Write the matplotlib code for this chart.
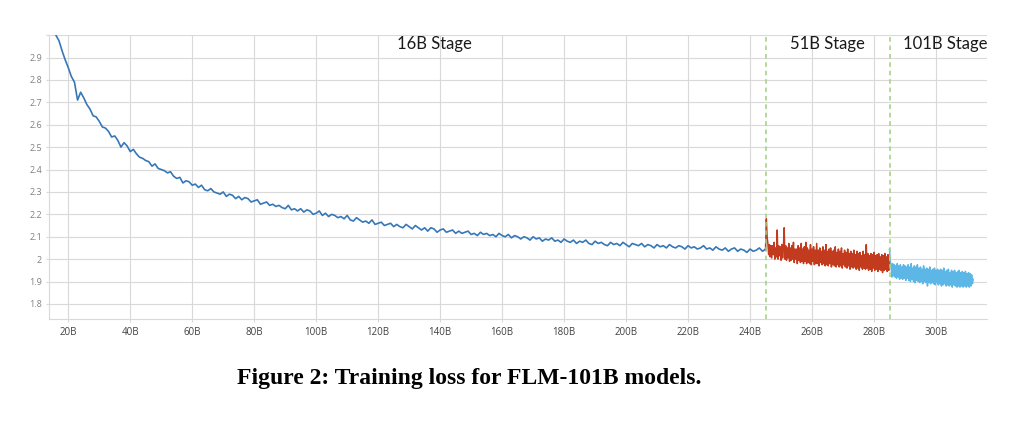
import matplotlib
matplotlib.use("Agg")
import matplotlib.pyplot as plt
import numpy as np

# loss values (x in billions of tokens)
stage16_start, stage16_end = 16, 245      # 1B step
loss_16b = [
    3.00, 2.975, 2.93, 2.89, 2.855, 2.815, 2.79, 2.71, 2.745, 2.72,
    2.69, 2.67, 2.64, 2.635, 2.615, 2.59, 2.585, 2.57, 2.545, 2.55,
    2.53, 2.50, 2.52, 2.505, 2.48, 2.49, 2.47, 2.455, 2.45, 2.44,
    2.435, 2.415, 2.425, 2.405, 2.40, 2.395, 2.385, 2.39, 2.37, 2.36,
    2.365, 2.34, 2.35, 2.345, 2.33, 2.335, 2.32, 2.33, 2.31, 2.305,
    2.315, 2.30, 2.295, 2.29, 2.30, 2.28, 2.29, 2.285, 2.27, 2.28,
    2.265, 2.275, 2.27, 2.255, 2.26, 2.265, 2.245, 2.25, 2.255, 2.24,
    2.245, 2.235, 2.24, 2.23, 2.225, 2.24, 2.22, 2.225, 2.215, 2.225,
    2.21, 2.22, 2.215, 2.20, 2.205, 2.215, 2.195, 2.205, 2.19, 2.20,
    2.195, 2.185, 2.19, 2.18, 2.195, 2.175, 2.17, 2.185, 2.175, 2.165,
    2.17, 2.16, 2.175, 2.155, 2.16, 2.165, 2.15, 2.155, 2.16, 2.145,
    2.155, 2.145, 2.14, 2.155, 2.145, 2.135, 2.15, 2.14, 2.13, 2.14,
    2.125, 2.14, 2.135, 2.12, 2.13, 2.135, 2.12, 2.125, 2.13, 2.115,
    2.125, 2.115, 2.12, 2.125, 2.11, 2.115, 2.105, 2.12, 2.11, 2.115,
    2.105, 2.11, 2.10, 2.115, 2.105, 2.10, 2.11, 2.095, 2.105, 2.10,
    2.09, 2.10, 2.095, 2.085, 2.10, 2.09, 2.095, 2.08, 2.09, 2.085,
    2.095, 2.08, 2.085, 2.075, 2.09, 2.08, 2.075, 2.085, 2.07, 2.08,
    2.075, 2.085, 2.07, 2.065, 2.08, 2.07, 2.075, 2.065, 2.06, 2.075,
    2.065, 2.07, 2.06, 2.075, 2.065, 2.055, 2.07, 2.065, 2.06, 2.07,
    2.055, 2.065, 2.06, 2.05, 2.065, 2.055, 2.06, 2.05, 2.065, 2.055,
    2.05, 2.06, 2.055, 2.045, 2.06, 2.05, 2.055, 2.045, 2.05, 2.06,
    2.045, 2.05, 2.04, 2.055, 2.045, 2.04, 2.05, 2.035, 2.045, 2.05,
    2.035, 2.045, 2.04, 2.03, 2.045, 2.035, 2.04, 2.05, 2.035, 2.045,
]

stage51_start, stage51_end = 245, 285     # 0.25B step
loss_51b = [
    2.04, 2.18, 2.10, 2.07, 2.02, 2.065, 2.01, 2.06,
    2.005, 2.06, 2.02, 2.075, 2.00, 2.05, 2.01, 2.13,
    2.00, 2.06, 2.015, 2.055, 1.995, 2.065, 2.005, 2.045,
    2.14, 2.00, 2.06, 1.995, 2.05, 2.005, 2.07, 1.99,
    2.05, 1.995, 2.06, 2.00, 2.075, 1.985, 2.045, 2.00,
    2.045, 1.98, 2.06, 1.995, 2.05, 1.985, 2.07, 1.99,
    2.045, 1.98, 2.055, 1.99, 2.075, 1.98, 2.05, 1.985,
    2.04, 1.98, 2.065, 1.975, 2.045, 1.99, 2.055, 1.975,
    2.04, 1.98, 2.07, 1.98, 2.04, 1.97, 2.05, 1.985,
    2.035, 1.975, 2.055, 1.98, 2.04, 1.97, 2.065, 1.975,
    2.035, 1.97, 2.045, 1.98, 2.05, 1.965, 2.035, 1.975,
    2.04, 1.97, 2.055, 1.965, 2.03, 1.975, 2.045, 1.965,
    2.035, 1.97, 2.05, 1.96, 2.025, 1.975, 2.04, 1.965,
    2.03, 1.96, 2.045, 1.97, 2.025, 1.955, 2.035, 1.965,
    2.025, 1.96, 2.04, 1.965, 2.02, 1.955, 2.035, 1.96,
    2.025, 1.95, 2.03, 1.965, 2.015, 1.955, 2.035, 1.96,
    2.02, 1.955, 2.065, 1.96, 2.025, 1.95, 2.015, 1.955,
    2.025, 1.945, 2.02, 1.96, 2.03, 1.95, 2.015, 1.955,
    2.02, 1.945, 2.025, 1.955, 2.01, 1.95, 2.02, 1.94,
    2.015, 1.95, 2.025, 1.955, 2.01, 1.945, 2.02, 1.95,
    1.99,
]

stage101_start, stage101_end = 285, 312   # 0.25B step
loss_101b = [
    2.045, 1.99, 1.975, 1.92, 1.98, 1.925, 1.975, 1.92,
    1.97, 1.915, 1.98, 1.92, 1.97, 1.91, 1.975, 1.915,
    1.965, 1.91, 1.975, 1.915, 1.97, 1.905, 1.965, 1.915,
    1.975, 1.905, 1.965, 1.90, 1.98, 1.91, 1.96, 1.90,
    1.97, 1.895, 1.965, 1.905, 1.975, 1.90, 1.96, 1.895,
    1.965, 1.90, 1.955, 1.89, 1.97, 1.90, 1.955, 1.895,
    1.96, 1.88, 1.955, 1.895, 1.965, 1.89, 1.95, 1.895,
    1.955, 1.89, 1.96, 1.885, 1.95, 1.895, 1.955, 1.885,
    1.95, 1.89, 1.955, 1.88, 1.95, 1.885, 1.96, 1.89,
    1.945, 1.88, 1.95, 1.885, 1.955, 1.88, 1.94, 1.885,
    1.95, 1.875, 1.945, 1.885, 1.95, 1.88, 1.94, 1.875,
    1.945, 1.88, 1.95, 1.875, 1.94, 1.88, 1.945, 1.875,
    1.94, 1.88, 1.945, 1.875, 1.935, 1.88, 1.94, 1.875,
    1.935, 1.88, 1.93, 1.89, 1.91,
]

stage_bounds = [245, 285]
stage_labels = ["16B Stage", "51B Stage", "101B Stage"]
stage_label_x = [138, 265, 303]
x_ticks = list(range(20, 301, 20))
x_tick_labels = [f"{t}B" for t in x_ticks]
y_ticks = [1.8, 1.9, 2.0, 2.1, 2.2, 2.3, 2.4, 2.5, 2.6, 2.7, 2.8, 2.9, 3.0]
y_tick_labels = ["1.8", "1.9", "2", "2.1", "2.2", "2.3", "2.4", "2.5",
                 "2.6", "2.7", "2.8", "2.9", ""]

x16 = np.linspace(stage16_start, stage16_end, len(loss_16b))
x51 = np.linspace(stage51_start, stage51_end, len(loss_51b))
x101 = np.linspace(stage101_start, stage101_end, len(loss_101b))

fig = plt.figure(figsize=(10.24, 4.23), dpi=100)
ax = fig.add_axes([0.0479, 0.246, 0.9161, 0.671])

grid_c = "#d9d9d9"
ax.plot(x16, loss_16b, color="#3677b8", lw=1.2, zorder=3)
ax.plot(x51, loss_51b, color="#c23b1e", lw=1.1, zorder=3)
ax.plot(x101, loss_101b, color="#5cb6e6", lw=1.1, zorder=3)
for b in stage_bounds:
    ax.axvline(b, color="#9fcf7f", lw=1.1, ls=(0, (3, 2.5)), zorder=4)

ax.set_xlim(13.8, 316.5)
ax.set_ylim(1.733, 3.0)
ax.set_xticks(x_ticks)
ax.set_xticklabels(x_tick_labels, fontsize=7, color="#404040", family="Open Sans")
ax.set_yticks(y_ticks)
ax.set_yticklabels(y_tick_labels, fontsize=6.5, color="#808080", family="Open Sans")
ax.tick_params(axis="x", length=2, color=grid_c, pad=4)
ax.tick_params(axis="y", length=2, color=grid_c, pad=3)
ax.grid(True, color=grid_c, lw=0.8, zorder=0)
ax.set_axisbelow(True)
for s in ["top", "right"]:
    ax.spines[s].set_visible(False)
for s in ["left", "bottom"]:
    ax.spines[s].set_color(grid_c)
    ax.spines[s].set_linewidth(0.8)

for lbl, lx in zip(stage_labels, stage_label_x):
    ax.text(lx, 2.96, lbl, ha="center", va="center", fontsize=12,
            family="Lato", color="#1a1a1a")

fig.text(0.458, 0.106, "Figure 2: Training loss for FLM-101B models.",
         ha="center", va="center", fontsize=17, fontweight="bold",
         family="Liberation Serif")

fig.savefig("out.png", dpi=100)
plt.close(fig)
